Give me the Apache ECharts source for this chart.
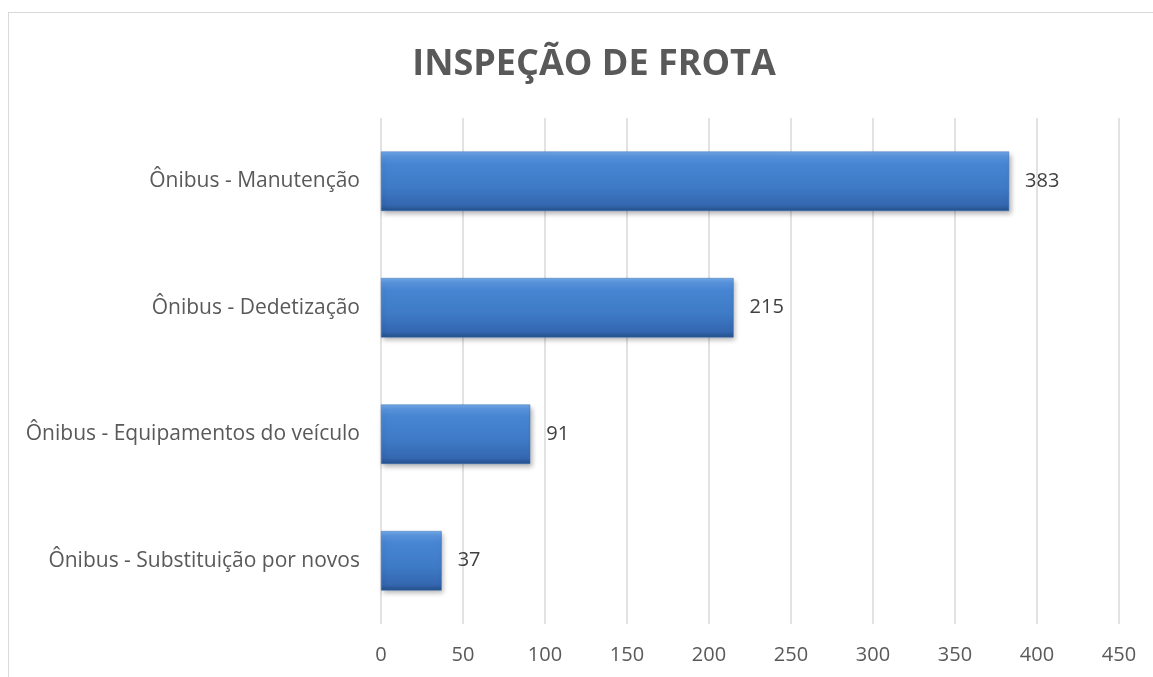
<!DOCTYPE html>
<html>
<head>
<meta charset="utf-8">
<script src="https://cdn.jsdelivr.net/npm/echarts@6/dist/echarts.min.js"></script>
<style>
  html, body { margin: 0; padding: 0; background: #fff; }
  #frame {
    position: absolute; left: 8px; top: 12px; width: 1200px; height: 700px;
    border-left: 1.5px solid #d9d9d9; border-top: 1.5px solid #d9d9d9;
  }
  #chart { position: absolute; left: 0; top: 0; width: 1153px; height: 677px; }
</style>
</head>
<body>
<div id="frame"></div>
<div id="chart"></div>
<script>
const categories = [
  "Ônibus - Manutenção",
  "Ônibus - Dedetização",
  "Ônibus - Equipamentos do veículo",
  "Ônibus - Substituição por novos"
];
const values = [383, 215, 91, 37];
const xTicks = { min: 0, max: 450, interval: 50 };

const font = "'Open Sans', 'Noto Sans', sans-serif";

const chart = echarts.init(document.getElementById("chart"));
chart.setOption({
  animation: false,
  title: {
    text: "INSPEÇÃO DE FROTA",
    left: 589,
    top: 42,
    textAlign: "center",
    textStyle: { fontFamily: font, fontSize: 36, fontWeight: "bold", color: "#595959" }
  },
  grid: { left: 381, right: 34, top: 118, bottom: 53 },
  xAxis: {
    type: "value",
    min: xTicks.min,
    max: xTicks.max,
    interval: xTicks.interval,
    axisLine: { show: false },
    axisTick: { show: false },
    axisLabel: { margin: 21, fontFamily: font, fontSize: 20, color: "#595959" },
    splitLine: { lineStyle: { color: "#d9d9d9", width: 1.5 } }
  },
  yAxis: {
    type: "category",
    inverse: true,
    data: categories,
    axisLine: { show: false },
    axisTick: { show: false },
    axisLabel: { margin: 21, fontFamily: font, fontSize: 21, color: "#595959" }
  },
  series: [{
    type: "bar",
    data: values,
    barCategoryGap: "53%",
    itemStyle: {
      color: new echarts.graphic.LinearGradient(0, 0, 0, 1, [
        { offset: 0, color: "#72aaea" },
        { offset: 0.08, color: "#5893dc" },
        { offset: 0.2, color: "#4785d2" },
        { offset: 0.6, color: "#3e7ac6" },
        { offset: 0.9, color: "#3467b0" },
        { offset: 1, color: "#24508a" }
      ]),
      borderColor: "#3a70b8",
      borderWidth: 0.5,
      shadowBlur: 5,
      shadowOffsetX: 2,
      shadowOffsetY: 3,
      shadowColor: "rgba(0,0,0,0.3)"
    },
    label: {
      show: true,
      position: "right",
      distance: 16,
      fontFamily: font,
      fontSize: 20,
      color: "#404040"
    }
  }]
});
</script>
</body>
</html>
